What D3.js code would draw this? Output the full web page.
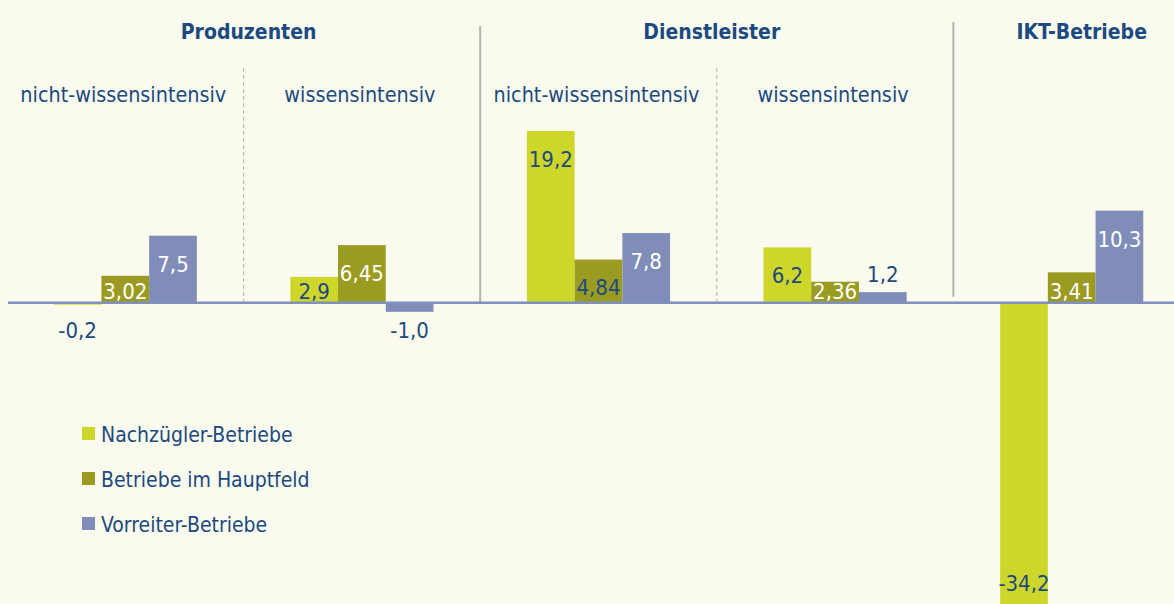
<!DOCTYPE html>
<html>
<head>
<meta charset="utf-8">
<script src="https://cdn.jsdelivr.net/npm/d3@7"></script>
<style>
  body { margin: 0; background: #fafaee; }
  svg { display: block; }
  text { font-family: "Liberation Sans Narrow", "DejaVu Sans Condensed", "Roboto", sans-serif; }
</style>
</head>
<body>
<div id="chart"></div>
<script>
// Data
const categories = ["P-nwi", "P-wi", "D-nwi", "D-wi", "IKT"];
const subLabels = ["nicht-wissensintensiv", "wissensintensiv", "nicht-wissensintensiv", "wissensintensiv", ""];
const sectorNames = ["Produzenten", "Dienstleister", "IKT-Betriebe"];
const sectorOf = [0, 0, 1, 1, 2];
const seriesNames = ["Nachzügler-Betriebe", "Betriebe im Hauptfeld", "Vorreiter-Betriebe"];
const nachzuegler = [-0.2, 2.9, 19.2, 6.2, -34.2];
const hauptfeld = [3.02, 6.45, 4.84, 2.36, 3.41];
const vorreiter = [7.5, -1.0, 7.8, 1.2, 10.3];
const seriesValues = [nachzuegler, hauptfeld, vorreiter];

const width = 1174, height = 604;
const colors = ["#cfd62a", "#9a9b20", "#7f8db8"];
const navy = "#1b4a80";
const darkLabels = new Set(["2-1"]); // labels drawn dark inside a bar

const svg = d3.select("#chart").append("svg")
    .attr("width", width)
    .attr("height", height);

svg.append("rect").attr("width", width).attr("height", height).attr("fill", "#fafaee");

const x0 = d3.scaleBand().domain(categories).range([7, 1190])
    .paddingInner(0.395).paddingOuter(0.1975);
const x1 = d3.scaleBand().domain(d3.range(seriesNames.length)).range([0, x0.bandwidth()]);
const y = d3.scaleLinear().domain([-34.2, 19.2]).range([609, 131]);
const zero = y(0);

const fmt = v => (Number.isInteger(v) ? v.toFixed(1) : String(v)).replace(".", ",");

// Dividers between groups
const gap = x0.step() - x0.bandwidth();
categories.slice(1).forEach((c, i) => {
    const xPos = x0(c) - gap / 2;
    const sameSector = sectorOf[i] === sectorOf[i + 1];
    svg.append("line")
        .attr("x1", xPos).attr("x2", xPos)
        .attr("y1", sameSector ? 68 : (i === 3 ? 22 : 26))
        .attr("y2", i === 3 ? zero - 6 : zero)
        .attr("stroke", "#b3b3b0")
        .attr("stroke-width", sameSector ? 1 : 2)
        .attr("stroke-dasharray", sameSector ? "4,3" : null);
});

// Sector titles
sectorNames.forEach((name, s) => {
    const idx = categories.filter((c, i) => sectorOf[i] === s);
    const left = x0(idx[0]);
    const right = x0(idx[idx.length - 1]) + x0.bandwidth();
    svg.append("text")
        .attr("x", (left + right) / 2 + (s === 0 ? 5 : s === 1 ? -5 : 10))
        .attr("y", 39)
        .attr("text-anchor", "middle")
        .attr("fill", navy)
        .attr("font-size", 21)
        .attr("font-weight", "bold")
        .text(name);
});

// Sub labels
svg.selectAll(".sub")
    .data(categories)
    .enter()
    .append("text")
    .attr("class", "sub")
    .attr("x", d => x0(d) + x0.bandwidth() / 2 - 2)
    .attr("y", 102)
    .attr("text-anchor", "middle")
    .attr("fill", navy)
    .attr("font-size", 21.4)
    .text((d, i) => subLabels[i]);

// Bars
const bars = [];
categories.forEach((c, gi) => {
    seriesValues.forEach((vals, si) => {
        bars.push({ c: c, gi: gi, si: si, v: vals[gi] });
    });
});

svg.selectAll(".bar")
    .data(bars)
    .enter()
    .append("rect")
    .attr("class", "bar")
    .attr("x", d => x0(d.c) + x1(d.si))
    .attr("y", d => Math.min(y(d.v), zero))
    .attr("width", x1.bandwidth())
    .attr("height", d => Math.max(Math.abs(y(d.v) - zero), 1))
    .attr("fill", d => colors[d.si]);

// Zero line
svg.append("line")
    .attr("x1", 8).attr("x2", width)
    .attr("y1", zero).attr("y2", zero)
    .attr("stroke", "#8090bf")
    .attr("stroke-width", 2.5);

// Value labels
function labelPos(d) {
    const h = Math.abs(y(d.v) - zero);
    if (d.v >= 0) {
        if (h < 16) return { y: y(d.v) - 18, inside: false };
        return { y: Math.min(y(d.v) + 28, zero - 12), inside: true };
    }
    if (h < 20) return { y: zero + 27, inside: false };
    return { y: Math.min(y(d.v), height) - 21, inside: true };
}

svg.selectAll(".val")
    .data(bars)
    .enter()
    .append("text")
    .attr("class", "val")
    .attr("x", d => x0(d.c) + x1(d.si) + x1.bandwidth() / 2)
    .attr("y", d => labelPos(d).y)
    .attr("dy", "0.36em")
    .attr("text-anchor", "middle")
    .attr("font-size", 22)
    .attr("fill", d => {
        const p = labelPos(d);
        if (!p.inside || d.si === 0 || darkLabels.has(d.gi + "-" + d.si)) return navy;
        return "#ffffff";
    })
    .text(d => fmt(d.v));

// Legend
const legend = svg.selectAll(".legend")
    .data(seriesNames)
    .enter()
    .append("g")
    .attr("class", "legend")
    .attr("transform", (d, i) => `translate(82, ${434 + i * 45})`);

legend.append("rect")
    .attr("x", 0).attr("y", -7)
    .attr("width", 13).attr("height", 13)
    .attr("fill", (d, i) => colors[i]);

legend.append("text")
    .attr("x", 19)
    .attr("y", 0)
    .attr("dy", "0.36em")
    .attr("fill", navy)
    .attr("font-size", 21)
    .text(d => d);
</script>
</body>
</html>
